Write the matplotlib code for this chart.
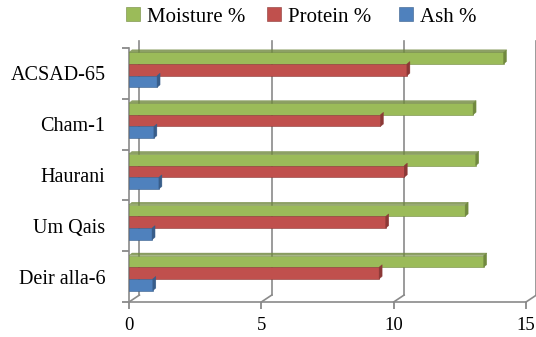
import matplotlib
matplotlib.use("Agg")
import matplotlib.pyplot as plt
import matplotlib.transforms as mtransforms
from matplotlib.patches import Polygon
import numpy as np

plt.rcParams['font.family'] = ['Liberation Serif', 'DejaVu Serif']

varieties = ["ACSAD-65", "Cham-1", "Haurani", "Um Qais", "Deir alla-6"]
moisture = [14.15, 13.0, 13.1, 12.7, 13.4]
protein = [10.5, 9.5, 10.4, 9.7, 9.45]
ash = [1.06, 0.94, 1.13, 0.87, 0.9]

series = [("Moisture %", moisture, "#9bbb59", "#71893f"),
          ("Protein %", protein, "#c0504d", "#8c3836"),
          ("Ash %", ash, "#4f81bd", "#385d8a")]

fig = plt.figure(figsize=(5.36, 3.37), dpi=100)
ax = fig.add_axes([129 / 536, 1 - 302 / 337, 397 / 536, 254 / 337])

y = np.arange(len(varieties))
h = 0.23
shift = -0.07

ax.set_xlim(0, 15)
ax.set_ylim(len(varieties) - 0.5, -0.5)

bars = []
handles = []
for k, (name, vals, face, dark) in enumerate(series):
    pos = y + (k - 1) * h + shift
    bc = ax.barh(pos, vals, height=h, color=face, edgecolor=dark,
                 linewidth=0.4, label=name, zorder=3)
    bars.append((pos, vals, dark, k == 0))
    handles.append(bc)

# small depth faces (end caps, plus the top of the uppermost bar)
off = np.array([3.0, 2.5])
for pos, vals, dark, upper in bars:
    for p, v in zip(pos, vals):
        top, bot = p - h / 2, p + h / 2
        a, b = ax.transData.transform([[v, top], [v, bot]])
        fig.patches.append(Polygon([a, b, b + off, a + off], closed=True,
                                   transform=None, facecolor=dark,
                                   edgecolor=dark, lw=0.3, zorder=4))
        if upper:
            z = ax.transData.transform([0, top])
            fig.patches.append(Polygon([z, a, a + off, z + off], closed=True,
                                       transform=None, facecolor=dark,
                                       edgecolor=dark, lw=0.3, zorder=4,
                                       alpha=0.8))

ax.set_xticks([0, 5, 10, 15])
ax.set_yticks(y)
ax.set_yticklabels(varieties)
ax.set_yticks(np.arange(-0.5, len(varieties)), minor=True)
ax.tick_params(axis='y', which='major', length=0, pad=17, labelsize=14.5)
ax.tick_params(axis='y', which='minor', length=5, color='#7f7f7f', width=1.2)
ax.tick_params(axis='x', length=5, color='#7f7f7f', width=1.2, labelsize=13.5,
               pad=6)

for s in ['top', 'right']:
    ax.spines[s].set_visible(False)
for s in ['left', 'bottom']:
    ax.spines[s].set_color('#8a8a8a')
    ax.spines[s].set_linewidth(1.2)

# back wall gridlines and the floor edges joining them to the front axis
wall_off = mtransforms.ScaledTranslation(7.5 / 72, 5 / 72, fig.dpi_scale_trans)
front = ax.get_xaxis_transform()
back = front + wall_off
for v in [0, 5, 10, 15]:
    ax.plot([v, v], [0, 1.0], transform=back, color='#8a8a8a', lw=1.2,
            clip_on=False, zorder=1)
    fx, fy = front.transform([v, 0])
    bx, by = back.transform([v, 0])
    ax.plot([fx, bx], [fy, by], transform=None, color='#8a8a8a', lw=1.2,
            clip_on=False, zorder=1)

# one legend entry per series, spaced as in the original layout
for hnd, lx in zip(handles, [126, 267, 399]):
    fig.legend(handles=[hnd], loc='center left',
               bbox_to_anchor=(lx / 536, 1 - 17 / 337), frameon=False,
               fontsize=15, handlelength=0.65, handleheight=0.65,
               handletextpad=0.35, borderpad=0, borderaxespad=0)

fig.savefig("out.png", dpi=100)
